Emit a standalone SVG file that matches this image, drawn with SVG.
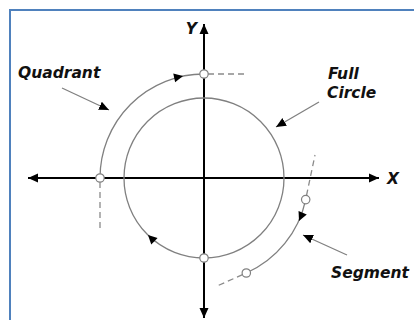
<svg xmlns="http://www.w3.org/2000/svg" width="414" height="320" viewBox="0 0 414 320">
<style>
.lbl{font-family:"DejaVu Sans","Verdana",sans-serif;font-weight:bold;font-style:italic;font-size:15.5px;fill:#111}
.arc{fill:none;stroke:#808080;stroke-width:1.3}
.dash{fill:none;stroke:#8a8a8a;stroke-width:1.3;stroke-dasharray:6,4}
.axis{stroke:#000;stroke-width:2}
.ptr{stroke:#808080;stroke-width:1.3}
.pt{fill:#fff;stroke:#808080;stroke-width:1.2}
</style>
<defs>
<marker id="ah" markerUnits="userSpaceOnUse" markerWidth="11" markerHeight="10" refX="10" refY="5" orient="auto">
<path d="M0,0.5 L10,5 L0,9.5 z" fill="#000"/>
</marker>
<path id="tri" d="M0,0 L-9,-4.5 L-9,4.5 z" fill="#000"/>
</defs>
<rect x="10" y="10" width="420" height="330" fill="#fff" stroke="#4F81BD" stroke-width="2"/>
<g id="connectors">
<line class="axis" x1="204" y1="318" x2="204" y2="24" marker-end="url(#ah)"/>
<line class="axis" x1="204" y1="30" x2="204" y2="318" marker-end="url(#ah)"/>
<line class="axis" x1="204" y1="178" x2="379" y2="178" marker-end="url(#ah)"/>
<line class="axis" x1="204" y1="178" x2="28" y2="178" marker-end="url(#ah)"/>
<line class="ptr" x1="62" y1="88" x2="109" y2="110" marker-end="url(#ah)"/>
<line class="ptr" x1="319" y1="102" x2="276" y2="127" marker-end="url(#ah)"/>
<line class="ptr" x1="347" y1="255" x2="303" y2="235" marker-end="url(#ah)"/>
</g>
<g id="full-circle">
<circle class="arc" cx="204" cy="178" r="80"/>
<use href="#tri" transform="translate(148,235) rotate(-135.5)"/>
<circle class="pt" cx="204" cy="258" r="4.2"/>
</g>
<g id="quadrant">
<path class="arc" d="M100,178 A104,104 0 0 1 204,74"/>
<path class="dash" d="M208,74 H247"/>
<path class="dash" d="M100,182 V230"/>
<use href="#tri" transform="translate(183,76) rotate(-12)"/>
<circle class="pt" cx="204" cy="74" r="4.2"/>
<circle class="pt" cx="100" cy="178" r="4.2"/>
</g>
<g id="segment">
<path class="arc" d="M305.7,199.6 A104,104 0 0 1 246.3,273"/>
<path class="dash" d="M306.5,195.5 L315,155"/>
<path class="dash" d="M242.5,274.7 L217,286"/>
<use href="#tri" transform="translate(299,221) rotate(114)"/>
<circle class="pt" cx="305.7" cy="199.6" r="4.2"/>
<circle class="pt" cx="246.3" cy="273" r="4.2"/>
</g>
<g id="labels">
<text class="lbl" x="18" y="78">Quadrant</text>
<text class="lbl" x="328" y="79">Full</text>
<text class="lbl" x="327" y="98">Circle</text>
<text class="lbl" x="331" y="278">Segment</text>
<text class="lbl" x="197" y="34" text-anchor="end">Y</text>
<text class="lbl" x="387" y="184">X</text>
</g>
</svg>
